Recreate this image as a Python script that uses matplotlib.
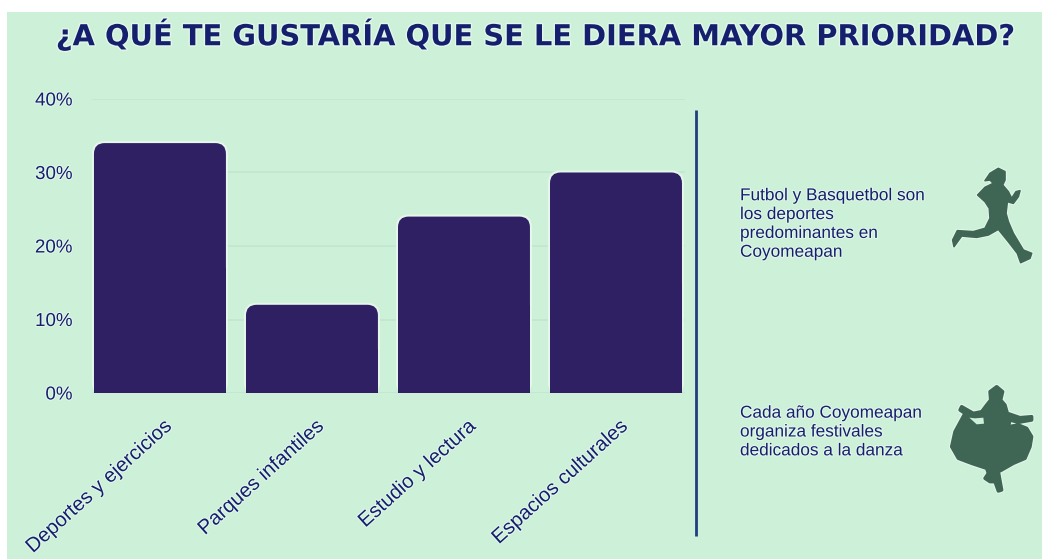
import matplotlib
matplotlib.use("Agg")
import matplotlib.pyplot as plt
import matplotlib.patheffects as pe
from matplotlib.patches import Polygon, Rectangle, FancyBboxPatch
from matplotlib.transforms import ScaledTranslation

plt.rcParams['font.family'] = ['Liberation Sans', 'DejaVu Sans']

categorias = ["Deportes y ejercicios", "Parques infantiles", "Estudio y lectura", "Espacios culturales"]
valores = [34, 12, 24, 30]
ticks = [0, 10, 20, 30, 40]
tick_labels = ["0%", "10%", "20%", "30%", "40%"]
titulo = "¿A QUÉ TE GUSTARÍA QUE SE LE DIERA MAYOR PRIORIDAD?"
nota_1 = "Futbol y Basquetbol son\nlos deportes\npredominantes en\nCoyomeapan"
nota_2 = "Cada año Coyomeapan\norganiza festivales\ndedicados a la danza"

W, H = 1042, 559
FONDO = "#cdf0d8"
HALO = "#e4f7ea"
AZUL = "#14206e"
VERDE = "#3f6655"
BARRA = "#2f1f63"

# siluetas, en coordenadas de los recortes (3x)
corredora = [(205, 55), (225, 65), (225, 90), (218, 105), (235, 125), (245, 145), (258, 125), (270, 122),
             (265, 140), (250, 160), (232, 155), (228, 190), (235, 215), (250, 250), (280, 300), (305, 310),
             (300, 325), (272, 338), (262, 310), (235, 275), (205, 238), (175, 255), (140, 262), (95, 258),
             (72, 290), (68, 270), (82, 242), (130, 245), (165, 235), (180, 205), (178, 175), (165, 155),
             (143, 135), (165, 112), (190, 100), (180, 90), (165, 92), (180, 70)]
bailarina = [(200, 35), (218, 50), (212, 75), (225, 90), (232, 115), (270, 128), (305, 125), (305, 135),
             (265, 142), (240, 135), (235, 155), (265, 150), (290, 160), (305, 185), (300, 215), (285, 250),
             (250, 265), (215, 285), (205, 290), (215, 345), (205, 348), (195, 320), (180, 320), (165, 310),
             (175, 295), (170, 280), (125, 265), (85, 250), (65, 215), (75, 170), (105, 115), (90, 105),
             (95, 95), (130, 115), (155, 110), (170, 90), (182, 75), (180, 50)]
hueco = [(118, 128), (135, 130), (160, 128), (162, 146), (140, 148)]


def halo(w=2.5):
    return [pe.withStroke(linewidth=w, foreground=HALO)]


fig = plt.figure(figsize=(W / 100, H / 100), dpi=100, facecolor="white")

# capa de fondo en pixeles
bg = fig.add_axes([0, 0, 1, 1])
bg.set_xlim(0, W)
bg.set_ylim(H, 0)
bg.axis("off")
bg.add_patch(Rectangle((7, 12), W - 7, H - 12, facecolor=FONDO, edgecolor="none"))
bg.plot([696, 696], [110, 536], color="#1f3f80", lw=2, solid_capstyle="butt")
bg.text(534, 35, titulo, ha="center", va="center", fontsize=20.8, fontweight="bold", color=AZUL,
        family="DejaVu Sans", path_effects=halo(2))
bg.text(740, 224, nota_1, ha="left", va="center", fontsize=12.4, color=AZUL, linespacing=1.32, path_effects=halo(1.5))
bg.text(740, 432, nota_2, ha="left", va="center", fontsize=12.4, color=AZUL, linespacing=1.32, path_effects=halo(1.5))
for forma, oy, grosor in [(corredora, 150, 1.2), (bailarina, 375, 2.5)]:
    bg.add_patch(Polygon([(930 + x / 3, oy + y / 3) for x, y in forma], closed=True, facecolor=VERDE,
                         edgecolor=VERDE, lw=grosor, joinstyle="round",
                         path_effects=[pe.withStroke(linewidth=grosor + 1.5, foreground=HALO)]))
bg.add_patch(Polygon([(930 + x / 3, 375 + y / 3) for x, y in hueco], closed=True, facecolor=FONDO, edgecolor="none"))

# grafica de barras
ax = fig.add_axes([92 / W, 1 - 393 / H, (685 - 92) / W, (393 - 99) / H])
ax.patch.set_alpha(0)
ax.set_xlim(-0.447, 3.454)
ax.set_ylim(0, 40)
x = list(range(len(categorias)))
ancho = 0.868
radio = 0.07
aspecto = (40 / 294) / (1 / 152)  # unidades y por unidad x
for xi, v in zip(x, valores):
    rp = radio * aspecto
    ax.add_patch(FancyBboxPatch((xi - ancho / 2 + radio, rp), ancho - 2 * radio, v - 2 * rp,
                                boxstyle=f"round,pad={radio},rounding_size={radio}", mutation_aspect=aspecto,
                                facecolor=BARRA, edgecolor="none", zorder=3,
                                path_effects=[pe.withStroke(linewidth=3, foreground=HALO)]))
# parte baja recta de cada barra
barras = ax.bar(x, [v / 2 for v in valores], width=ancho, color=BARRA, zorder=3)
ax.set_axisbelow(True)
ax.set_yticks(ticks, tick_labels)
ax.grid(axis="y", color="#c3e6d0", lw=1.2)
ax.tick_params(axis="both", length=0)
ax.tick_params(axis="y", pad=14, labelsize=13.5, labelcolor=AZUL)
ax.set_xticks(x, categorias, rotation=42, ha="right", va="center", rotation_mode="anchor", fontsize=14.6, color=AZUL)
ax.tick_params(axis="x", pad=22)
for t in ax.get_xticklabels():
    t.set_transform(t.get_transform() + ScaledTranslation(9 / 100, 0, fig.dpi_scale_trans))
for t in ax.get_xticklabels() + ax.get_yticklabels():
    t.set_path_effects(halo(1.5))
for s in ax.spines.values():
    s.set_visible(False)

fig.savefig("out.png", dpi=100, facecolor="white")
